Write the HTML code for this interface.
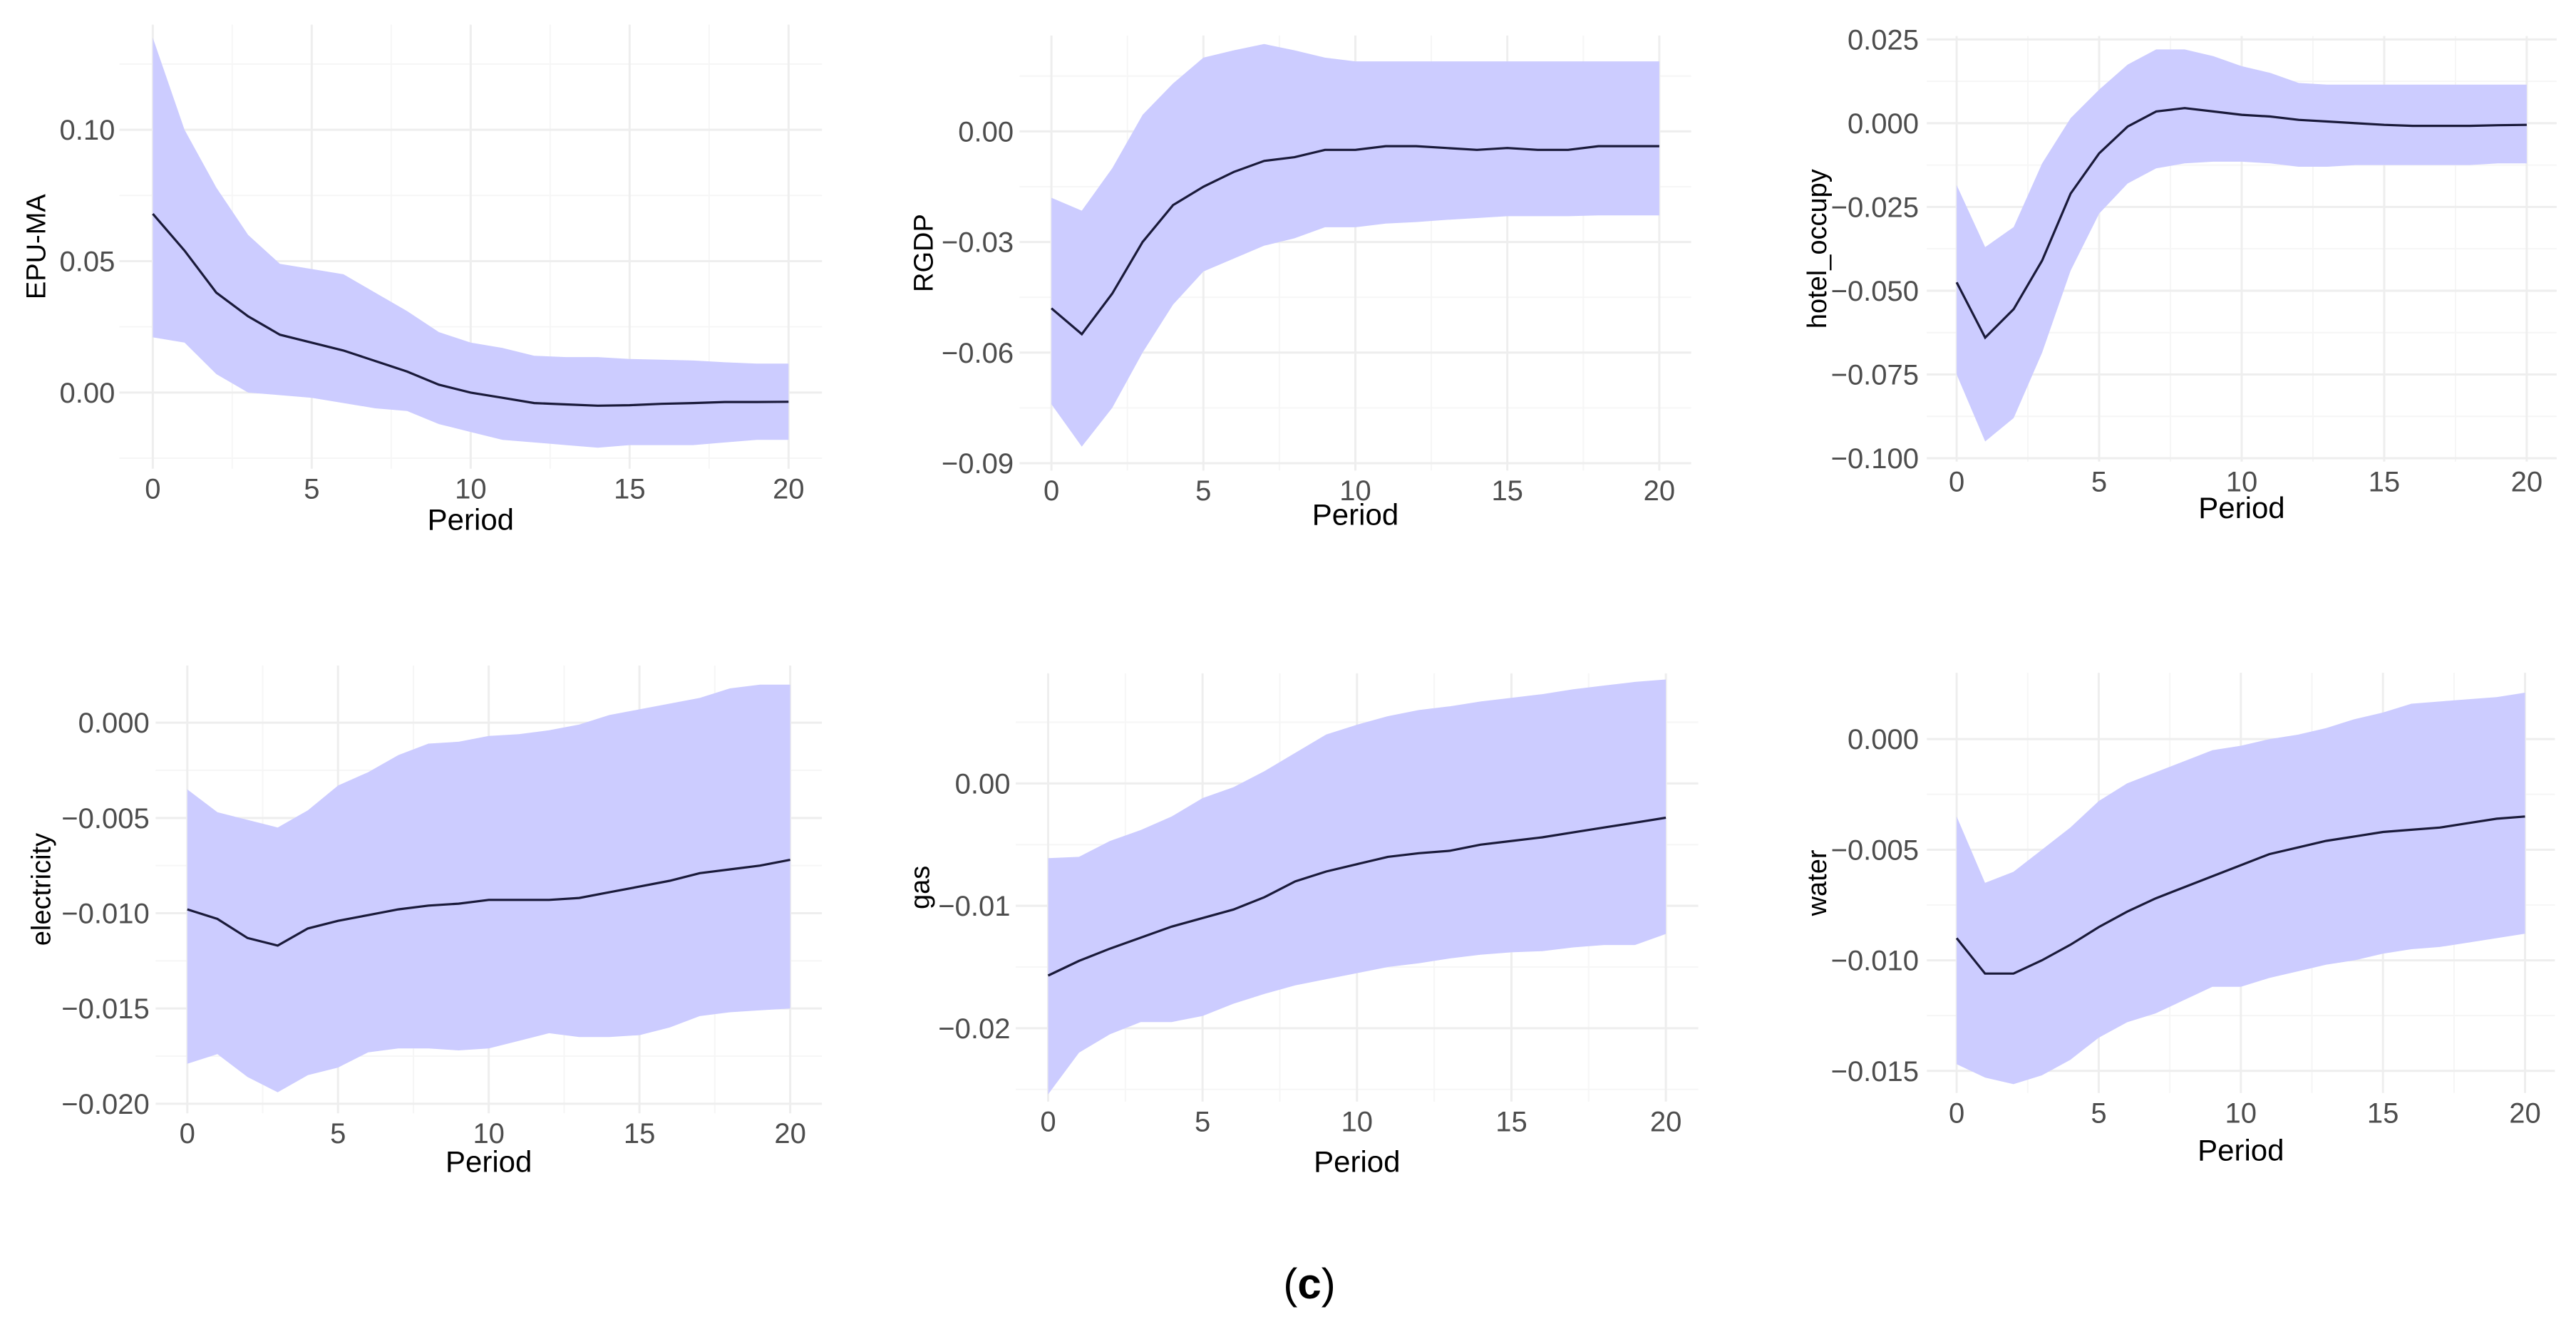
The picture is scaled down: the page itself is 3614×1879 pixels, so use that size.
<!DOCTYPE html>
<html><head><meta charset="utf-8"><style>
html,body{margin:0;padding:0;background:#fff;width:3614px;height:1879px;overflow:hidden}
svg{display:block}
text{font-family:"Liberation Sans",sans-serif}
</style></head><body>
<svg id="fig" width="3614" height="1879" viewBox="0 0 3614 1879" xmlns="http://www.w3.org/2000/svg">
<text x="1837" y="1822" text-anchor="middle" font-family="Liberation Serif" font-size="60" fill="#000">(<tspan font-weight="bold">c</tspan>)</text>
</svg>
<script>
const periods=[0,1,2,3,4,5,6,7,8,9,10,11,12,13,14,15,16,17,18,19,20];
const xTicks=[0,5,10,15,20];
const epuMean=[0.068,0.054,0.038,0.029,0.022,0.019,0.016,0.012,0.008,0.003,0.000,-0.002,-0.004,-0.0045,-0.005,-0.0048,-0.0043,-0.004,-0.0036,-0.0036,-0.0035];
const epuUpper=[0.135,0.100,0.078,0.060,0.049,0.047,0.045,0.038,0.031,0.023,0.019,0.017,0.014,0.0135,0.0135,0.0128,0.0125,0.0122,0.0115,0.011,0.011];
const epuLower=[0.021,0.019,0.007,0.000,-0.001,-0.002,-0.004,-0.006,-0.007,-0.012,-0.015,-0.018,-0.019,-0.020,-0.021,-0.020,-0.020,-0.020,-0.019,-0.018,-0.018];
const rgdpMean=[-0.048,-0.055,-0.044,-0.030,-0.020,-0.015,-0.011,-0.008,-0.007,-0.005,-0.005,-0.004,-0.004,-0.0045,-0.005,-0.0045,-0.005,-0.005,-0.004,-0.004,-0.004];
const rgdpUpper=[-0.018,-0.0215,-0.010,0.0045,0.013,0.020,0.022,0.0237,0.022,0.020,0.019,0.019,0.019,0.019,0.019,0.019,0.019,0.019,0.019,0.019,0.019];
const rgdpLower=[-0.074,-0.0855,-0.075,-0.060,-0.047,-0.038,-0.0345,-0.031,-0.029,-0.026,-0.026,-0.025,-0.0246,-0.024,-0.0235,-0.023,-0.023,-0.023,-0.0228,-0.0228,-0.0228];
const hotelMean=[-0.0475,-0.064,-0.0555,-0.041,-0.021,-0.009,-0.001,0.0035,0.0045,0.0035,0.0025,0.002,0.001,0.0005,0.0,-0.0005,-0.0008,-0.0008,-0.0008,-0.0006,-0.0005];
const hotelUpper=[-0.0185,-0.037,-0.031,-0.012,0.0015,0.010,0.0175,0.022,0.022,0.020,0.017,0.015,0.012,0.0115,0.0115,0.0115,0.0115,0.0115,0.0115,0.0115,0.0115];
const hotelLower=[-0.075,-0.095,-0.088,-0.0685,-0.044,-0.027,-0.018,-0.0135,-0.012,-0.0115,-0.0115,-0.012,-0.013,-0.013,-0.0125,-0.0125,-0.0125,-0.0125,-0.0125,-0.012,-0.012];
const elecMean=[-0.0098,-0.0103,-0.0113,-0.0117,-0.0108,-0.0104,-0.0101,-0.0098,-0.0096,-0.0095,-0.0093,-0.0093,-0.0093,-0.0092,-0.0089,-0.0086,-0.0083,-0.0079,-0.0077,-0.0075,-0.0072];
const elecUpper=[-0.0035,-0.0047,-0.0051,-0.0055,-0.0046,-0.0033,-0.0026,-0.0017,-0.0011,-0.0010,-0.0007,-0.0006,-0.0004,-0.0001,0.0004,0.0007,0.0010,0.0013,0.0018,0.0020,0.0020];
const elecLower=[-0.0179,-0.0174,-0.0186,-0.0194,-0.0185,-0.0181,-0.0173,-0.0171,-0.0171,-0.0172,-0.0171,-0.0167,-0.0163,-0.0165,-0.0165,-0.0164,-0.0160,-0.0154,-0.0152,-0.0151,-0.0150];
const gasMean=[-0.0157,-0.0145,-0.0135,-0.0126,-0.0117,-0.0110,-0.0103,-0.0093,-0.0080,-0.0072,-0.0066,-0.0060,-0.0057,-0.0055,-0.0050,-0.0047,-0.0044,-0.0040,-0.0036,-0.0032,-0.0028];
const gasUpper=[-0.0061,-0.0060,-0.0047,-0.0038,-0.0027,-0.0012,-0.0003,0.0010,0.0025,0.0040,0.0048,0.0055,0.0060,0.0063,0.0067,0.0070,0.0073,0.0077,0.0080,0.0083,0.0085];
const gasLower=[-0.0254,-0.0220,-0.0205,-0.0195,-0.0195,-0.0190,-0.0180,-0.0172,-0.0165,-0.0160,-0.0155,-0.0150,-0.0147,-0.0143,-0.0140,-0.0138,-0.0137,-0.0134,-0.0132,-0.0132,-0.0123];
const waterMean=[-0.0090,-0.0106,-0.0106,-0.0100,-0.0093,-0.0085,-0.0078,-0.0072,-0.0067,-0.0062,-0.0057,-0.0052,-0.0049,-0.0046,-0.0044,-0.0042,-0.0041,-0.0040,-0.0038,-0.0036,-0.0035];
const waterUpper=[-0.0035,-0.0065,-0.0060,-0.0050,-0.0040,-0.0028,-0.0020,-0.0015,-0.0010,-0.0005,-0.0003,0.0,0.0002,0.0005,0.0009,0.0012,0.0016,0.0017,0.0018,0.0019,0.0021];
const waterLower=[-0.0147,-0.0153,-0.0156,-0.0152,-0.0145,-0.0135,-0.0128,-0.0124,-0.0118,-0.0112,-0.0112,-0.0108,-0.0105,-0.0102,-0.0100,-0.0097,-0.0095,-0.0094,-0.0092,-0.0090,-0.0088];

const S=3614/1568;
const NS="http://www.w3.org/2000/svg";
const svg=document.getElementById('fig');
function mk(tag,attrs,parent){const e=document.createElementNS(NS,tag);for(const k in attrs)e.setAttribute(k,attrs[k]);(parent||svg).appendChild(e);return e;}

const panels=[
 {key:'epu',title:'EPU-MA',mean:epuMean,up:epuUpper,lo:epuLower,x0:93,x20:480,ya:[0.10,79],yb:[0,239],ymin:-0.029,ymax:0.14,majors:[0,0.05,0.10],labels:['0.00','0.05','0.10'],minors:[-0.025,0.025,0.075,0.125],py:316,tx:22},
 {key:'rgdp',title:'RGDP',mean:rgdpMean,up:rgdpUpper,lo:rgdpLower,x0:640,x20:1010,ya:[0,80],yb:[-0.09,282],ymin:-0.092,ymax:0.026,majors:[-0.09,-0.06,-0.03,0],labels:['\u22120.09','\u22120.06','\u22120.03','0.00'],minors:[-0.075,-0.045,-0.015,0.015],py:313,tx:562},
 {key:'hotel',title:'hotel_occupy',mean:hotelMean,up:hotelUpper,lo:hotelLower,x0:1191,x20:1538,ya:[0.025,24],yb:[-0.1,279],ymin:-0.101,ymax:0.026,majors:[-0.1,-0.075,-0.05,-0.025,0,0.025],labels:['\u22120.100','\u22120.075','\u22120.050','\u22120.025','0.000','0.025'],minors:[-0.0875,-0.0625,-0.0375,-0.0125,0.0125],py:309,tx:1106},
 {key:'elec',title:'electricity',mean:elecMean,up:elecUpper,lo:elecLower,x0:114,x20:481,ya:[0,440],yb:[-0.02,672],ymin:-0.0205,ymax:0.003,majors:[-0.02,-0.015,-0.01,-0.005,0],labels:['\u22120.020','\u22120.015','\u22120.010','\u22120.005','0.000'],minors:[-0.0175,-0.0125,-0.0075,-0.0025],py:707,tx:25},
 {key:'gas',title:'gas',mean:gasMean,up:gasUpper,lo:gasLower,x0:638,x20:1014,ya:[0,477],yb:[-0.02,626],ymin:-0.026,ymax:0.009,majors:[-0.02,-0.01,0],labels:['\u22120.02','\u22120.01','0.00'],minors:[-0.025,-0.015,-0.005,0.005],py:707,tx:560},
 {key:'water',title:'water',mean:waterMean,up:waterUpper,lo:waterLower,x0:1191,x20:1537,ya:[0,450],yb:[-0.015,652],ymin:-0.016,ymax:0.003,majors:[-0.015,-0.01,-0.005,0],labels:['\u22120.015','\u22120.010','\u22120.005','0.000'],minors:[-0.0125,-0.0075,-0.0025],py:700,tx:1106}
];

panels.forEach(p=>{
 const g=mk('g',{});
 
 
 const xs=v=>S*(p.x0+(p.x20-p.x0)*v/20);
 const ys=v=>S*(p.yb[1]+(p.ya[1]-p.yb[1])*(v-p.yb[0])/(p.ya[0]-p.yb[0]));
 const gx1=xs(-1.05),gx2=xs(21.05),gy1=ys(p.ymax),gy2=ys(p.ymin);
 p.minors.forEach(v=>{if(v>p.ymax||v<p.ymin)return;const l=mk('line',{x1:gx1,x2:gx2,y1:ys(v),y2:ys(v),stroke:'#f6f6f6','stroke-width':2},g);});
 [2.5,7.5,12.5,17.5].forEach(v=>{const l=mk('line',{x1:xs(v),x2:xs(v),y1:gy1,y2:gy2,stroke:'#f6f6f6','stroke-width':2},g);});
 p.majors.forEach(v=>{const l=mk('line',{x1:gx1,x2:gx2,y1:ys(v),y2:ys(v),stroke:'#eeeeee','stroke-width':3},g);});
 xTicks.forEach(v=>{const l=mk('line',{x1:xs(v),x2:xs(v),y1:gy1,y2:gy2,stroke:'#eeeeee','stroke-width':3},g);});
 let d='';periods.forEach((t,i)=>{d+=(i?'L':'M')+xs(t).toFixed(1)+','+ys(p.up[i]).toFixed(1);});
 for(let i=periods.length-1;i>=0;i--)d+='L'+xs(periods[i]).toFixed(1)+','+ys(p.lo[i]).toFixed(1);
 const band=mk('path',{d:d+'Z',fill:'#ccccff'},g);
 
 
 let dl='';periods.forEach((t,i)=>{dl+=(i?'L':'M')+xs(t).toFixed(1)+','+ys(p.mean[i]).toFixed(1);});
 const line=mk('path',{d:dl,fill:'none',stroke:'#1a1a3a','stroke-width':3.2},g);
 
 
 p.majors.forEach((v,i)=>{const t=mk('text',{x:xs(0)-S*23,y:ys(v)+14,'text-anchor':'end','font-size':40,fill:'#4d4d4d'},g);t.textContent=p.labels[i];});
 xTicks.forEach(v=>{const t=mk('text',{x:xs(v),y:gy2+S*12+14,'text-anchor':'middle','font-size':40,fill:'#4d4d4d'},g);t.textContent=String(v);});
 const xt=mk('text',{x:xs(10),y:S*p.py+15,'text-anchor':'middle','font-size':42,fill:'#000'},g);
 xt.textContent='Period';
 
 
 const cy=(gy1+gy2)/2;
 const yt=mk('text',{x:S*p.tx+13,y:cy,'text-anchor':'middle','font-size':38,fill:'#000',transform:'rotate(-90 '+(S*p.tx+13)+' '+cy+')'},g);
 yt.textContent=p.title;
 
 
});
</script>
</body></html>
